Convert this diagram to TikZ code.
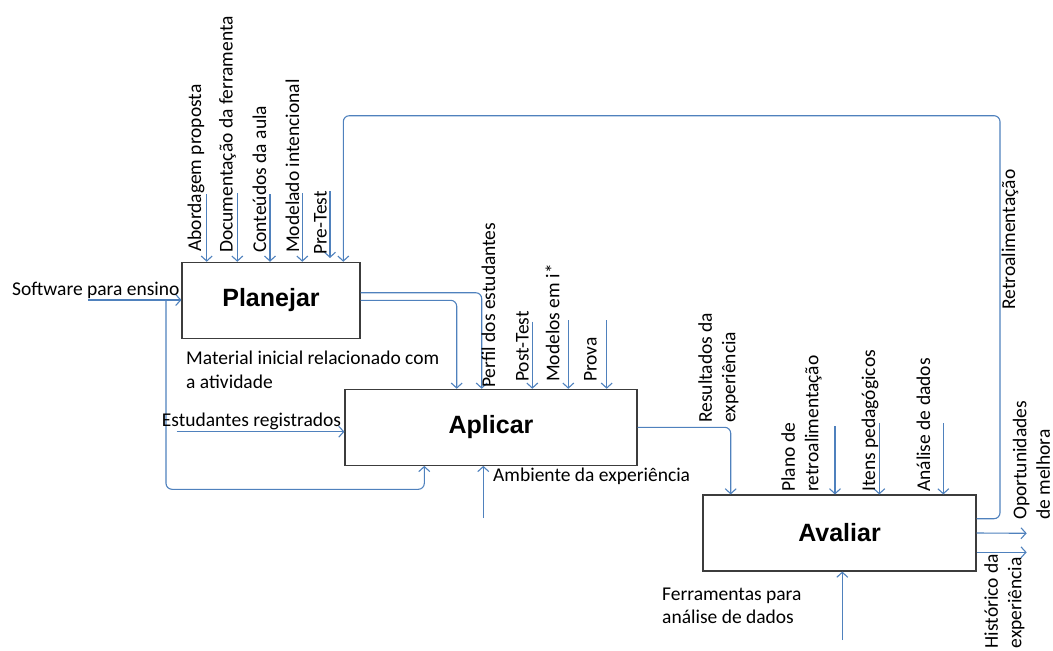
\documentclass[tikz,border=0pt]{standalone}
\usepackage{fontspec}
\setmainfont{Carlito}
\newfontfamily\arialfont{Liberation Sans}
\usetikzlibrary{arrows.meta}
\definecolor{idefblue}{RGB}{79,129,189}
\definecolor{boxgray}{RGB}{60,60,60}
\tikzset{
  activity/.style={draw=boxgray, line width=1.1pt, fill=white, inner sep=0pt,
    font=\arialfont\bfseries\fontsize{25}{30}\selectfont},
  arr/.style={draw=idefblue, line width=1.1pt, rounded corners=6pt,
    -{Straight Barb[length=5pt,width=11pt]}},
  lbl/.style={font=\fontsize{19.5}{23.5}\selectfont, inner sep=0pt, text=black},
  vlbl/.style={lbl, rotate=90, anchor=west, align=left}
}
\begin{document}
\begin{tikzpicture}[x=1pt,y=-1pt]
\useasboundingbox (0,0) rectangle (1053,651);

% activity boxes
\node[activity, minimum width=178pt, minimum height=76pt] (plan) at (271,300.3) {Planejar};
\node[activity, minimum width=292pt, minimum height=76pt] (apl) at (491,427.3) {Aplicar};
\node[activity, minimum width=273pt, minimum height=76pt] (ava) at (839.5,533) {Avaliar};

% ---- Planejar inputs (top)
\draw[arr] (206.7,194) -- (plan.north -| 206.7,0);
\draw[arr] (237.3,193) -- (plan.north -| 237.3,0);
\draw[arr] (270,194) -- (plan.north -| 270,0);
\draw[arr] (302.3,193) -- (plan.north -| 302.3,0);
\coordinate (pretestend) at (330,258);
\draw[arr] (330,191) -- (pretestend);
\node[vlbl] (l1) at (196,252) {Abordagem proposta};
\node[vlbl] (l2) at (227.5,253) {Documentação da ferramenta};
\node[vlbl] (l3) at (259.5,253) {Conteúdos da aula};
\node[vlbl] (l4) at (292.5,253) {Modelado intencional};
\node[vlbl] (l5) at (320.5,255) {Pre-Test};

% ---- Software para ensino
\coordinate (swstart) at (88,300);
\coordinate (swbranch) at (166,300);
\draw[arr] (swstart) -- (swstart -| plan.west);
\draw[arr] (swbranch) -- (166,489.3) -- (424.3,489.3) -- (apl.south -| 424.3,0);
\node[lbl, anchor=base west] (sw) at (12,295.5) {Software para ensino};

% ---- Planejar outputs
\draw[arr] ([yshift=7.6pt]plan.east) -| ([xshift=-9.3pt]apl.north);
\draw[arr] (plan.east) -| ([xshift=-34.3pt]apl.north);
\node[lbl, anchor=west, align=left] (mat) at (186,370) {Material inicial relacionado com\\a atividade};

% ---- Aplicar inputs
\coordinate (estart) at (176.7,431.7);
\draw[arr] (estart) -- (estart -| apl.west);
\node[lbl, anchor=base west] (est) at (161.7,426) {Estudantes registrados};
\draw[arr] (532.3,321.7) -- (apl.north -| 532.3,0);
\draw[arr] (568.3,320) -- (apl.north -| 568.3,0);
\draw[arr] (606.7,320) -- (apl.north -| 606.7,0);
\node[vlbl] (perf) at (488.3,388) {Perfil dos estudantes};
\node[vlbl] (post) at (522.5,382) {Post-Test};
\node[vlbl] (mod) at (552.5,382) {Modelos em i*};
\node[vlbl] (prova) at (590.5,382) {Prova};
\draw[arr] (483.3,518) -- (apl.south -| 483.3,0);
\node[lbl, anchor=base west] (amb) at (493,481.7) {Ambiente da experiência};

% ---- Aplicar output
\draw[arr] (apl.east) -| ([xshift=-108.8pt]ava.north);
\node[vlbl] (res) at (718.5,423) {Resultados da\\experiência};

% ---- Avaliar inputs
\draw[arr] (835,426) -- (ava.north -| 835,0);
\draw[arr] (879.3,423.3) -- (ava.north -| 879.3,0);
\draw[arr] (943.3,423.3) -- (ava.north -| 943.3,0);
\node[vlbl] (plano) at (801.5,492) {Plano de\\retroalimentação};
\node[vlbl] (itens) at (870,492) {Itens pedagógicos};
\node[vlbl] (anal) at (923.5,492) {Análise de dados};
\draw[arr] (842.3,640) -- (ava.south -| 842.3,0);
\node[lbl, anchor=west, align=left] (ferr) at (662,606) {Ferramentas para\\análise de dados};

% ---- Avaliar outputs
\coordinate (op) at (1026.7,533.3);
\coordinate (hi) at (1026.7,552.3);
\draw[arr] (ava.east) -- (op);
\draw[arr] ([yshift=-19.3pt]ava.east) -- (hi);
\node[vlbl] (opl) at (1031.5,520) {Oportunidades\\de melhora};
\node[vlbl] (hil) at (1004.5,648.5) {Histórico da\\experiência};

% ---- Retroalimentação loop
\draw[arr] ([yshift=14.3pt]ava.east) -- (1000,518.7) -- (1000,115.7) -- (343.3,115.7) -- (plan.north -| 343.3,0);
\node[vlbl] (retro) at (1010,310) {Retroalimentação};
\end{tikzpicture}
\end{document}
